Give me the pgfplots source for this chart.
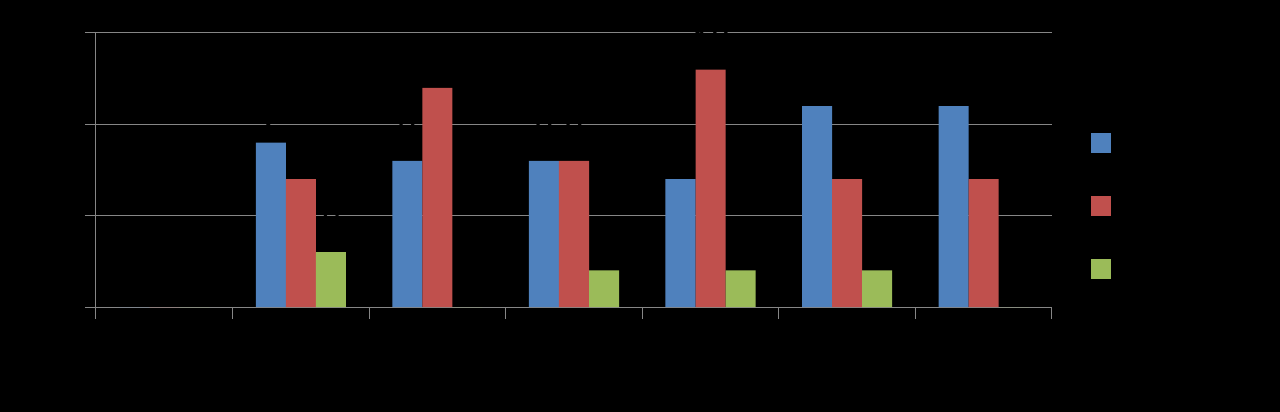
\documentclass[border=0pt]{standalone}
\usepackage{fontspec}
\setmainfont{Carlito}
\usepackage{pgfplots}
\pgfplotsset{compat=1.18}
\pgfplotsset{/pgf/number format/assume math mode=true}
\definecolor{cblue}{HTML}{4F81BD}
\definecolor{cred}{HTML}{C0504D}
\definecolor{cgreen}{HTML}{9BBB59}
\definecolor{gridc}{HTML}{868686}
\colorlet{txt}{black}
\newcommand\fs{\fontsize{19.5}{23}\selectfont}
\begin{document}
\begin{tikzpicture}
\fill[black] (-48pt,-52.5pt) rectangle (592pt,153.5pt);
\useasboundingbox (-48pt,-52.5pt) rectangle (592pt,153.5pt);
\begin{axis}[
  at={(0,0)}, anchor=south west,
  scale only axis, width=478pt, height=137pt,
  ymin=0, ymax=15, xmin=-0.5, xmax=6.5,
  ytick={0,5,10,15},
  xtick={0,...,6},
  xticklabels={5 класс,6 класс,7 класс,8 класс,9 класс,10 класс,11 класс},
  minor xtick={-0.5,0.5,...,6.5},
  major x tick style={draw=none},
  tick align=outside,
  major tick length=5.5pt, minor tick length=6pt,
  tick style={gridc, line width=0.5pt},
  axis lines*=left,
  axis line style={gridc, line width=0.5pt, -},
  ymajorgrids,
  grid style={gridc, line width=0.5pt},
  tick label style={font=\fs, txt},
  yticklabel style={xshift=-11.7pt},
  xticklabel style={yshift=-14.2pt, text height=12.3pt, text depth=0pt},
  ybar=0pt, bar width=0.22,
  nodes near coords,
  every node near coord/.append style={font=\fs, txt, yshift=4.5pt},
  legend style={draw=none, fill=none, font=\fs, text=txt,
    at={(1,0.346)}, anchor=west, xshift=19.5pt, inner sep=0pt,
    row sep=15pt, column sep=5.5pt,
    nodes={inner sep=0pt, text height=12pt, text depth=3pt}},
  legend cell align=left,
  legend image code/.code={\fill[#1] (0pt,-1.1pt) rectangle (10pt,8.9pt);},
]
\addplot[fill=cblue, draw=none] coordinates {(0,0) (1,9) (2,8) (3,8) (4,7) (5,11) (6,11)};
\addplot[fill=cred, draw=none] coordinates {(0,0) (1,7) (2,12) (3,8) (4,13) (5,7) (6,7)};
\addplot[fill=cgreen, draw=none] coordinates {(0,0) (1,3) (2,0) (3,2) (4,2) (5,2) (6,0)};
\legend{высокий, средний, низкий}
\end{axis}
\end{tikzpicture}
\end{document}
